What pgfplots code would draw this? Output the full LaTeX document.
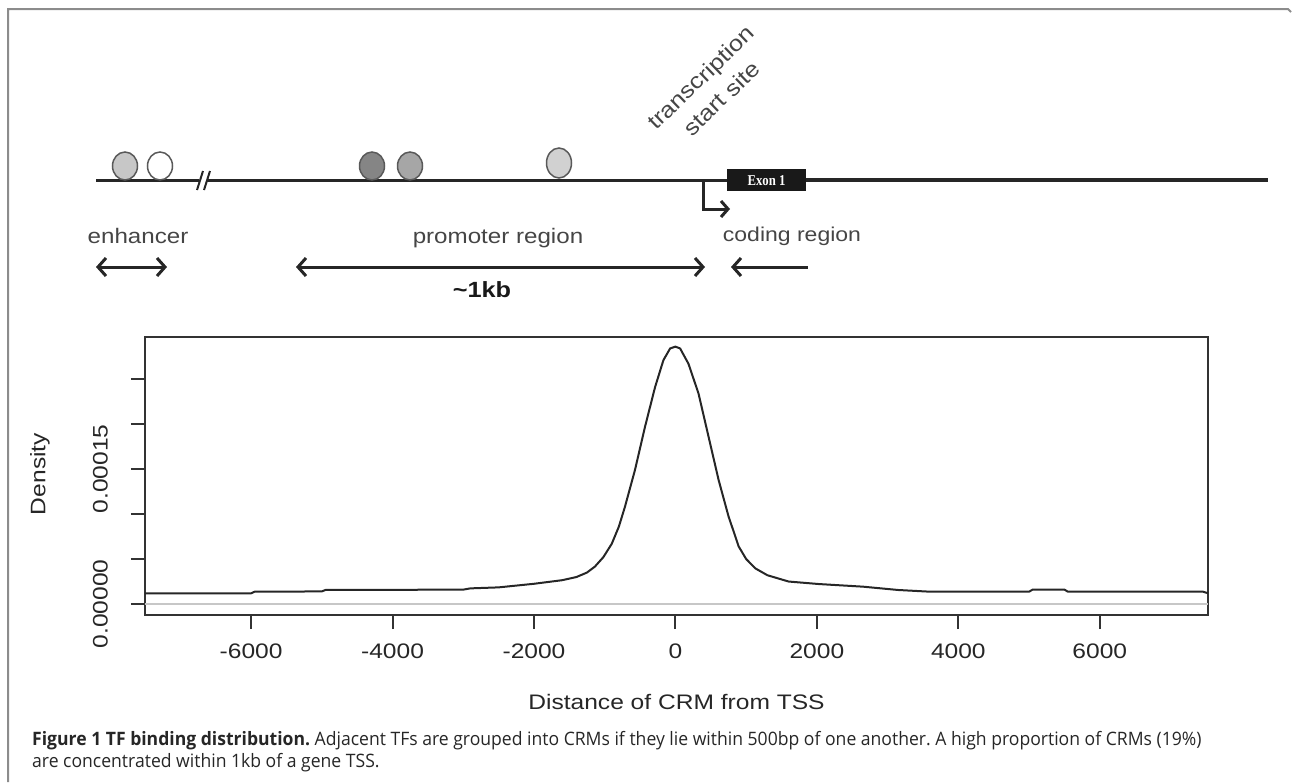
\documentclass[border=0pt]{standalone}
\usepackage{pgfplots}
\pgfplotsset{compat=1.18}
\usetikzlibrary{arrows.meta}
\usepackage{fontspec}
\setmainfont{Liberation Sans}
\newfontfamily\plotfont[FakeStretch=1.17]{Liberation Sans}
\newfontfamily\diafont[FakeStretch=1.15]{Liberation Sans}
\newfontfamily\capfont[FakeStretch=0.95]{Open Sans}
\newfontfamily\exonfont[FakeStretch=0.85]{Liberation Serif}
\definecolor{txt}{HTML}{454545}
\definecolor{framec}{HTML}{8C8C8C}
\begin{document}
\frenchspacing
\begin{tikzpicture}
\useasboundingbox (0pt,0pt) rectangle (1293pt,-782pt);
\draw[framec, line width=2pt] (8pt,-782pt) -- (8pt,-9pt) -- (1288pt,-9pt) -- (1291pt,-12pt);
\begin{scope}[x=1pt,y=-1pt]
% DNA line
\draw[line width=3pt, black!85] (96,180) -- (199,180);
\draw[line width=3pt, black!85] (207,180) -- (727,180);
\draw[line width=4pt, black!85] (806,180) -- (1268,180);
\draw[line width=2pt, black!85] (197,190) -- (203,171);
\draw[line width=2pt, black!85] (204,190) -- (210,171);
% exon
\fill[black!90] (727,169) rectangle (806,191);
\node[text=white, font=\exonfont\bfseries\fontsize{15pt}{17pt}\selectfont] at (766.5,180.5) {Exon 1};
% binding sites
\filldraw[fill=black!22, draw=black!65, line width=1.5pt] (125,166) ellipse [x radius=12.5, y radius=14];
\filldraw[fill=white, draw=black!65, line width=1.5pt] (160,166) ellipse [x radius=12.5, y radius=14];
\filldraw[fill=black!48, draw=black!65, line width=1.5pt] (372,166) ellipse [x radius=12.5, y radius=14];
\filldraw[fill=black!35, draw=black!65, line width=1.5pt] (410,166) ellipse [x radius=12.5, y radius=14];
\filldraw[fill=black!18, draw=black!65, line width=1.5pt] (559,163) ellipse [x radius=12.5, y radius=15];
% TSS arrow
\draw[line width=3pt, black!85, -{Straight Barb[length=7pt,width=16pt]}] (703,181) -- (703,209) -- (730,209);
% region arrows
\draw[line width=3pt, black!85, {Straight Barb[length=8pt,width=18pt]}-{Straight Barb[length=8pt,width=18pt]}] (96,267) -- (167,267);
\draw[line width=3pt, black!85, {Straight Barb[length=8pt,width=18pt]}-{Straight Barb[length=8pt,width=18pt]}] (296,267) -- (705,267);
\draw[line width=3pt, black!85, {Straight Barb[length=8pt,width=18pt]}-] (731,267) -- (808,267);
% texts
\node[txt, anchor=base, inner sep=0pt, font=\diafont\fontsize{21pt}{25pt}\selectfont] at (138,243) {enhancer};
\node[txt, anchor=base, inner sep=0pt, font=\diafont\fontsize{21pt}{25pt}\selectfont] at (498,243) {promoter region};
\node[txt, anchor=base, inner sep=0pt, font=\diafont\fontsize{20pt}{24pt}\selectfont] at (792,241) {coding region};
\node[black!90, anchor=base, inner sep=0pt, font=\diafont\bfseries\fontsize{22pt}{25pt}\selectfont] at (482,297) {\textasciitilde1kb};
\node[txt, rotate=44, anchor=base, inner sep=0pt, font=\diafont\fontsize{22pt}{28pt}\selectfont] at (706,83) {transcription};
\node[txt, rotate=44, anchor=base, inner sep=0pt, font=\diafont\fontsize{22pt}{28pt}\selectfont] at (727,104) {start site};
\end{scope}
\begin{axis}[
  at={(145pt,-615pt)}, anchor=south west,
  scale only axis, width=1063pt, height=278pt,
  xmin=-7500, xmax=7530, ymin=-1.22e-5, ymax=2.967e-4,
  scaled y ticks=false, scaled x ticks=false,
  axis line style={line width=2pt, black!80},
  tick align=outside, tickpos=left,
  major tick length=14pt,
  tick style={line width=2pt, black!80},
  xtick={-6000,-4000,-2000,0,2000,4000,6000},
  xticklabels={-6000,-4000,-2000,0,2000,4000,6000},
  ytick={0,0.00005,0.0001,0.00015,0.0002,0.00025},
  yticklabels={0.00000,,,0.00015,,},
  xticklabel style={font=\plotfont\fontsize{21pt}{25pt}\selectfont, text=black!85, inner sep=0pt, anchor=north},
  xticklabel shift=15pt,
  yticklabel style={font=\plotfont\fontsize{21pt}{25pt}\selectfont, text=black!85, inner sep=0pt, rotate=90, anchor=south},
  yticklabel shift=23pt,
  xlabel={Distance of CRM from TSS},
  xlabel style={at={(axis description cs:0.5,-0.313)}, anchor=center, inner sep=0pt, font=\plotfont\fontsize{21pt}{25pt}\selectfont, text=black!85},
  ylabel={Density},
  ylabel style={at={(axis description cs:-0.0988,0.507)}, anchor=center, inner sep=0pt, font=\plotfont\fontsize{21pt}{25pt}\selectfont, text=black!85},
]
\addplot[line width=1.5pt, black!22] coordinates {(-7500,0) (7530,0)};
\addplot[line width=2pt, black!85, line join=round] coordinates {
(-7500,1.19e-5) (-6000,1.19e-5) (-5950,1.37e-5) (-5000,1.40e-5) (-4950,1.56e-5)
(-3000,1.60e-5) (-2900,1.74e-5) (-2500,1.85e-5) (-2000,2.25e-5) (-1600,2.65e-5)
(-1400,3.0e-5) (-1250,3.5e-5) (-1140,4.15e-5) (-1020,5.2e-5) (-900,6.7e-5) (-800,8.6e-5) (-714,1.08e-4) (-572,1.49e-4)
(-430,1.97e-4) (-288,2.41e-4) (-170,2.71e-4) (-75,2.84e-4) (0,2.86e-4)
(66,2.84e-4) (184,2.67e-4) (326,2.34e-4) (468,1.86e-4) (610,1.38e-4)
(752,9.7e-5) (830,7.9e-5) (894,6.4e-5) (1000,5.0e-5) (1130,3.96e-5) (1300,3.2e-5)
(1600,2.5e-5) (2030,2.22e-5) (2650,1.93e-5) (3150,1.56e-5) (3600,1.37e-5)
(5000,1.37e-5) (5050,1.6e-5) (5500,1.6e-5) (5550,1.37e-5) (7460,1.37e-5) (7530,1.2e-5)
};
\end{axis}
\node[anchor=north west, inner sep=0pt, align=left, text=black!85,
  font=\capfont\fontsize{18.5pt}{22pt}\selectfont] at (32pt,-731pt)
  {\textbf{Figure 1 TF binding distribution.} Adjacent TFs are grouped into CRMs if they lie within 500bp of one another. A high proportion of CRMs (19\%)\\are concentrated within 1kb of a gene TSS.};
\end{tikzpicture}
\end{document}
